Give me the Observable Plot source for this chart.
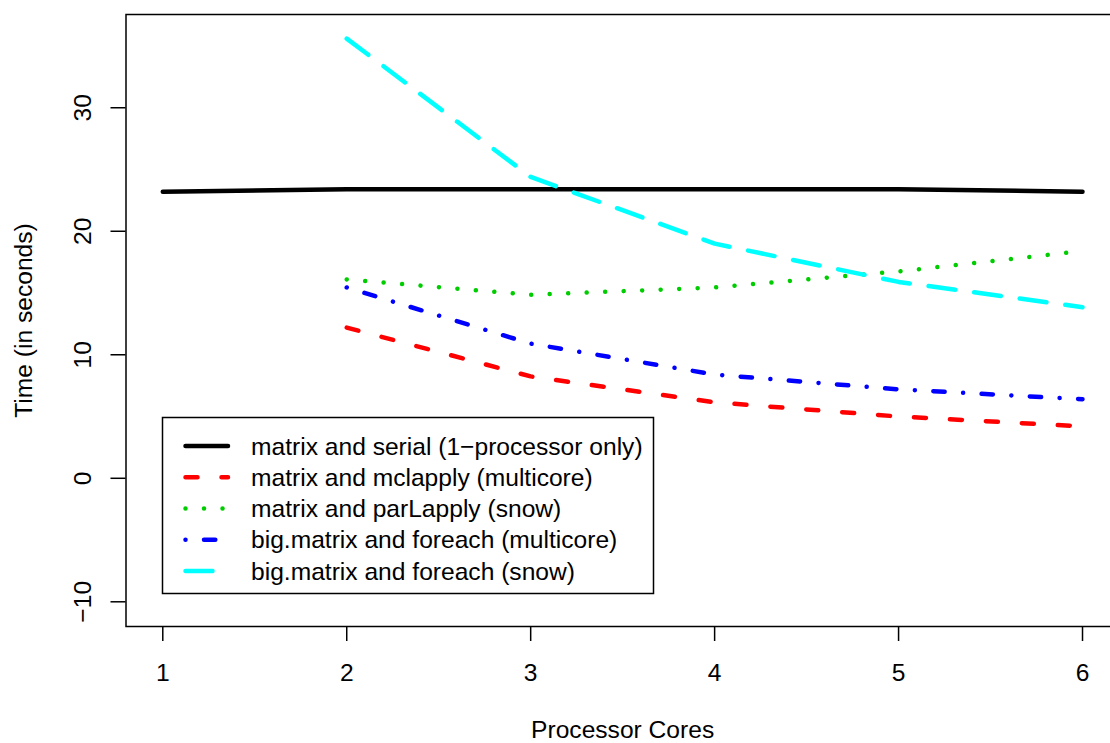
<!DOCTYPE html>
<html><head><meta charset="utf-8">
<script src="https://cdn.jsdelivr.net/npm/d3@7"></script>
<script src="https://cdn.jsdelivr.net/npm/@observablehq/plot@0.6"></script>
<style>
html,body{margin:0;padding:0;background:#fff;overflow:hidden}
#wrap{position:relative;width:1110px;height:743px;overflow:hidden;background:#fff}
#wrap svg{display:block;max-width:none !important;height:743px !important}
#legend{position:absolute;left:0;top:0}
</style></head><body><div id="wrap"></div>
<script>
// ---- data ----
const cores = [1, 2, 3, 4, 5, 6];
const serialTimes   = [23.2, 23.4, 23.4, 23.4, 23.4, 23.2];
const mclapplyTimes = [null, 12.2, 8.25, 6.15, 5.0, 4.2];
const parLapplyTimes = [null, 16.1, 14.85, 15.45, 16.75, 18.4];
const bigMultiTimes = [null, 15.45, 10.9, 8.4, 7.2, 6.4];
const bigSnowTimes  = [null, 35.6, 24.4, 19.0, 15.9, 13.85];
const seriesNames = [
  "matrix and serial (1\u2212processor only)",
  "matrix and mclapply (multicore)",
  "matrix and parLapply (snow)",
  "big.matrix and foreach (multicore)",
  "big.matrix and foreach (snow)"
];
const seriesValues = [serialTimes, mclapplyTimes, parLapplyTimes, bigMultiTimes, bigSnowTimes];
const seriesColors = ["#000000", "#FF0000", "#00CD00", "#0000FF", "#00FFFF"];
const seriesDash = ["none", "12,24", "0.01,18.5", "0.01,18.5,11.3,18.5", "27,19"];
const xTicks = [1, 2, 3, 4, 5, 6];
const yTicks = [-10, 0, 10, 20, 30];
const xLabel = "Processor Cores";
const yLabel = "Time (in seconds)";

const FONT = "'Liberation Sans', Arial, Helvetica, sans-serif";
const FS = 24.6;
const LW = 4.5;

const rows = [];
seriesValues.forEach((vals, s) => {
  vals.forEach((v, i) => { if (v != null) rows.push({series: s, x: cores[i], y: v}); });
});

const lineMarks = seriesValues.map((_, s) => Plot.line(rows.filter(r => r.series === s), {
  x: "x", y: "y", stroke: seriesColors[s], strokeWidth: LW,
  strokeDasharray: seriesDash[s] === "none" ? undefined : seriesDash[s],
  strokeLinecap: "round", strokeLinejoin: "round"
}));

const fmt = d => (d < 0 ? "\u2212" + Math.abs(d) : String(d));

const chart = Plot.plot({
  width: 1120, height: 743,
  marginLeft: 125.5, marginRight: 1.2, marginTop: 14, marginBottom: 117,
  style: {fontFamily: FONT, fontSize: FS + "px", background: "white", color: "black"},
  x: {domain: [0.8, 6.2]},
  y: {domain: [-12, 37.55]},
  marks: [
    ...lineMarks,
    Plot.frame({stroke: "black", strokeWidth: 1.5}),
    Plot.axisX({ticks: xTicks, tickSize: 15, tickPadding: 22, tickFormat: d => String(d),
      fontSize: FS, label: null, strokeWidth: 1.5}),
    Plot.axisY({ticks: yTicks, tickSize: 15, tickFormat: () => "", label: null, strokeWidth: 1.5}),
    Plot.text(yTicks, {y: d => d, text: fmt, frameAnchor: "left", dx: -35, rotate: -90,
      lineAnchor: "bottom", textAnchor: "middle", fontSize: FS, fill: "black"}),
    Plot.text([yLabel], {text: d => d, frameAnchor: "left", dx: -94, rotate: -90,
      lineAnchor: "bottom", textAnchor: "middle", fontSize: FS, fill: "black"}),
    Plot.text([xLabel], {text: d => d, frameAnchor: "bottom", dy: 111,
      lineAnchor: "bottom", textAnchor: "middle", fontSize: FS, fill: "black"})
  ]
});
const wrap = document.getElementById("wrap");
wrap.appendChild(chart);

// ---- legend (overlay) ----
const lg = d3.select(wrap).append("svg").attr("id", "legend")
  .attr("width", 1110).attr("height", 743);
lg.append("rect").attr("x", 162.5).attr("y", 417.5).attr("width", 491).attr("height", 176)
  .attr("fill", "white").attr("stroke", "black").attr("stroke-width", 1.5);
seriesNames.forEach((name, s) => {
  const cy = 446 + s * 31.25;
  lg.append("line").attr("x1", 185.5).attr("x2", 228).attr("y1", cy).attr("y2", cy)
    .attr("stroke", seriesColors[s]).attr("stroke-width", LW)
    .attr("stroke-linecap", "round")
    .attr("stroke-dasharray", seriesDash[s] === "none" ? null : seriesDash[s]);
  lg.append("text").attr("x", 251).attr("y", cy + 8.5).attr("font-family", FONT)
    .attr("font-size", FS).attr("fill", "black").text(name);
});
</script></body></html>
